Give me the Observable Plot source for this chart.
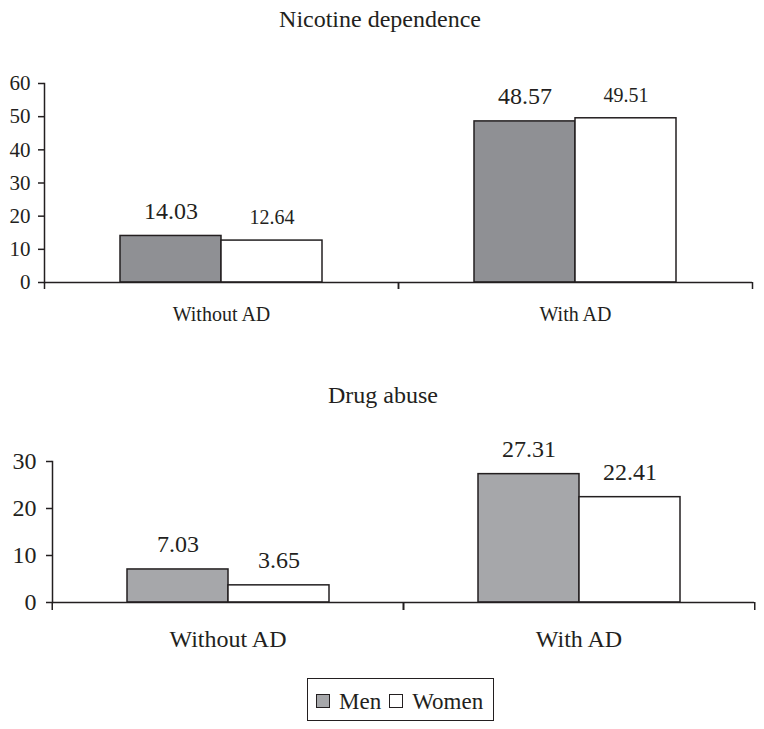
<!DOCTYPE html>
<html><head><meta charset="utf-8">
<script src="https://cdn.jsdelivr.net/npm/d3@7"></script>
<script src="https://cdn.jsdelivr.net/npm/@observablehq/plot@0.6"></script>
<style>
body{margin:0;background:#fff;font-family:"Liberation Serif","Times New Roman",serif;color:#231f20;}
#wrap{position:relative;width:764px;height:729px;overflow:hidden;background:#fff;}
.title{position:absolute;width:300px;text-align:center;font-size:24px;line-height:1;white-space:nowrap;}
.chart{position:absolute;left:0;}
#legend{position:absolute;left:307px;top:678px;width:185px;height:38px;border:1.5px solid #231f20;display:flex;align-items:center;padding-top:3px;box-sizing:content-box;font-size:23px;line-height:1;}
#legend .sw{display:inline-block;width:12px;height:12px;border:1.3px solid #231f20;margin-left:8px;margin-right:9px;}
</style></head>
<body><div id="wrap"></div>
<script>
// ---- data ----
const groups = ["Without AD", "With AD"];
const sexes = ["Men", "Women"];
const titles = ["Nicotine dependence", "Drug abuse"];
const nicotineMen = [14.03, 48.57];
const nicotineWomen = [12.64, 49.51];
const drugMen = [7.03, 27.31];
const drugWomen = [3.65, 22.41];
const nicotineTicks = [0, 10, 20, 30, 40, 50, 60];
const drugTicks = [0, 10, 20, 30];

const INK = "#231f20";
const wrap = document.getElementById("wrap");

function makeRows(men, women) {
  return groups.flatMap((g, i) => [
    {group: g, sex: sexes[0], value: men[i]},
    {group: g, sex: sexes[1], value: women[i]}
  ]);
}

function chart(o) {
  const rows = makeRows(o.men, o.women);
  const W = 764;
  const bw = (W - o.ml - o.mr) / 2;
  const fmt = d => d.value.toFixed(2);
  const p = Plot.plot({
    width: W, height: o.height,
    marginTop: o.mt, marginBottom: o.mb, marginLeft: o.ml, marginRight: o.mr,
    style: {fontFamily: "'Liberation Serif', 'Times New Roman', serif", color: INK, background: "transparent", overflow: "visible"},
    fx: {domain: groups, padding: 0},
    x: {domain: sexes, paddingInner: 0, paddingOuter: o.xPad, axis: null},
    y: {domain: [0, o.ticks[o.ticks.length - 1]]},
    color: {domain: sexes, range: [o.menFill, "#ffffff"]},
    marks: [
      Plot.barY(rows, {fx: "group", x: "sex", y: "value", fill: "sex", stroke: INK, strokeWidth: 1.5}),
      Plot.ruleY([0], {stroke: INK, strokeWidth: 1.5}),
      Plot.frame({anchor: "left", facetAnchor: "left", stroke: INK, strokeWidth: 1.5}),
      Plot.axisY({ticks: o.ticks, tickSize: 6, tickPadding: o.yPad, fontSize: o.yFont, label: null, stroke: INK, strokeWidth: 1.5}),
      Plot.axisFx({anchor: "bottom", tickSize: 0, tickPadding: o.catPad, fontSize: o.catFont, label: null}),
      Plot.axisFx({anchor: "bottom", tickSize: o.bTick, dx: -bw / 2, tickFormat: () => "", label: null, stroke: INK, strokeWidth: 1.5}),
      Plot.axisFx({anchor: "bottom", tickSize: o.bTick, dx: bw / 2, tickFormat: () => "", label: null, stroke: INK, strokeWidth: 1.5}),
      Plot.text(rows.filter(d => d.sex === sexes[0]), {fx: "group", x: "sex", y: "value", text: fmt, dy: -o.menDy, lineAnchor: "middle", fontSize: o.menFont, fill: INK}),
      Plot.text(rows.filter(d => d.sex === sexes[1]), {fx: "group", x: "sex", y: "value", text: fmt, dy: -o.womenDy, lineAnchor: "middle", fontSize: o.womenFont, fill: INK})
    ]
  });
  p.classList.add("chart");
  p.style.top = o.top + "px";
  wrap.appendChild(p);
}

function title(txt, cx, top) {
  const d = document.createElement("div");
  d.className = "title";
  d.textContent = txt;
  d.style.left = (cx - 150) + "px";
  d.style.top = top + "px";
  wrap.appendChild(d);
}

title(titles[0], 380, 7);
chart({men: nicotineMen, women: nicotineWomen, ticks: nicotineTicks,
  top: 40, height: 292, mt: 43, mb: 50, ml: 44, mr: 12, xPad: 0.747,
  menFill: "#8f9094", yFont: 21, yPad: 8, catFont: 20, catPad: 24, bTick: 7,
  menFont: 24, womenFont: 20, menDy: 25, womenDy: 23});

title(titles[1], 383, 383);
chart({men: drugMen, women: drugWomen, ticks: drugTicks,
  top: 421, height: 232, mt: 40, mb: 51, ml: 51, mr: 10, xPad: 0.735,
  menFill: "#a6a7aa", yFont: 24, yPad: 10, catFont: 24, catPad: 27, bTick: 8,
  menFont: 24, womenFont: 24, menDy: 25, womenDy: 25});

// legend
const legendFills = ["#a6a7aa", "#ffffff"];
const lg = document.createElement("div");
lg.id = "legend";
sexes.forEach((s, i) => {
  const sw = document.createElement("span");
  sw.className = "sw";
  sw.style.background = legendFills[i];
  lg.appendChild(sw);
  const t = document.createElement("span");
  t.textContent = s;
  lg.appendChild(t);
});
wrap.appendChild(lg);
</script>
</body></html>
